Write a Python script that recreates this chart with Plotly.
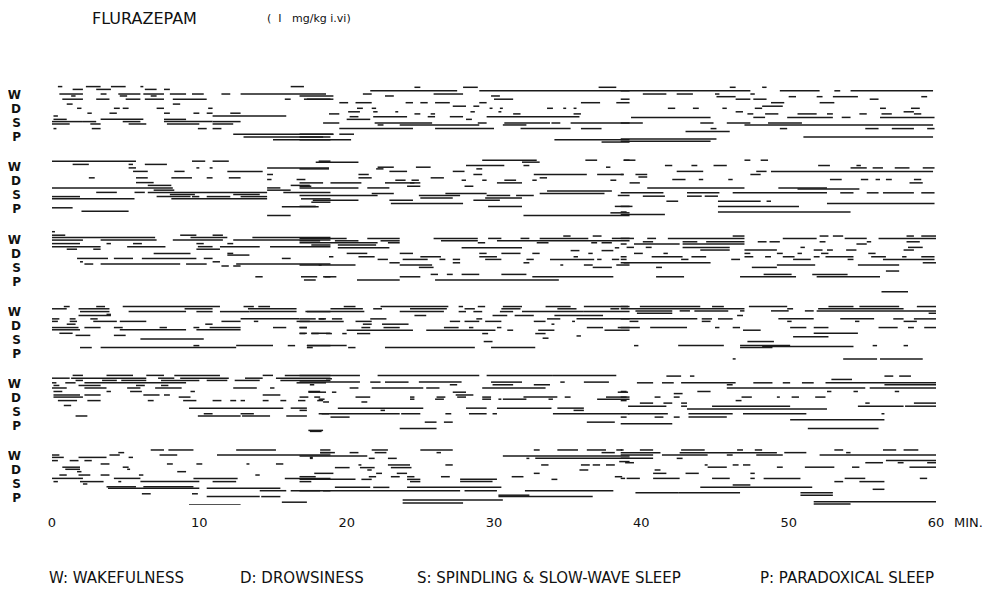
import plotly.graph_objects as go

# ---------------- data ----------------
x_tick_vals = [0, 10, 20, 30, 40, 50, 60]
x_tick_text = ["0", "10", "20", "30", "40", "50", "60"]
stage_labels = ["W", "D", "S", "P"]   # stage level 0..3 inside each panel
title_text = "FLURAZEPAM"
dose_text = "(  I   mg/kg i.vi)"
legend_items = ["W: WAKEFULNESS", "D: DROWSINESS",
                "S: SPINDLING & SLOW-WAVE SLEEP", "P: PARADOXICAL SLEEP"]

# segments per panel: (start_min, end_min, stage level incl. per-animal offset)
P1 = [(0.4,0.7,-0.6),(2.3,3.3,-0.6),(4.0,5.0,-0.6),(6.0,6.2,-0.6),(16.2,17.1,-0.6),
(1.4,2.1,-0.4),(3.0,4.0,-0.4),(6.3,7.1,-0.4),(7.6,8.0,-0.4),
(0.5,2.1,-0.07),(3.3,3.7,-0.07),(4.5,6.0,-0.07),(6.2,7.6,-0.07),(8.0,9.1,-0.07),(9.5,10.3,-0.07),(11.5,12.1,-0.07),(12.8,18.6,-0.07),
(1.3,1.6,0.07),(4.6,5.1,0.07),(6.7,7.1,0.07),
(0.7,2.1,0.3),(3.0,3.9,0.3),(5.0,6.0,0.3),(6.3,7.6,0.3),(8.2,10.5,0.3),(15.8,16.2,0.3),(17.1,18.9,0.3),
(1.0,1.4,0.65),(8.2,8.7,0.65),
(1.7,2.0,0.95),(4.2,4.6,0.95),(4.8,5.2,0.95),(7.1,7.6,0.95),(10.6,10.9,0.95),
(2.4,2.7,1.3),(3.9,4.4,1.3),(7.6,8.0,1.3),(9.6,10.0,1.3),(10.5,10.9,1.3),(12.1,12.8,1.3),
(0.1,0.4,1.5),(10.9,15.9,1.5),
(0.1,1.0,1.74),(3.3,6.2,1.74),(7.6,9.1,1.74),
(0.0,2.1,1.9),(2.1,3.0,1.9),(4.8,6.0,1.9),(7.6,10.9,1.9),(10.9,12.8,1.9),
(0.0,1.2,2.07),(2.6,3.3,2.07),(5.2,6.4,2.07),(7.8,10.0,2.07),(10.9,12.3,2.07),
(0.1,0.3,2.4),(2.7,3.3,2.4),(9.9,10.5,2.4),(10.9,11.5,2.4),
(12.3,19.1,2.8),(13.0,18.9,3.0),(15.0,18.9,3.2),
(24.6,25.0,-0.55),(27.9,28.9,-0.55),(37.1,38.3,-0.55),
(21.6,27.5,-0.3),(29.0,39.2,-0.3),
(25.9,27.9,-0.07),(21.1,21.7,-0.07),
(16.8,19.1,0.07),(22.6,23.2,0.07),(29.8,30.4,0.07),
(17.3,19.1,0.3),(30.0,31.3,0.3),
(19.5,20.1,0.55),(20.6,21.7,0.55),(24.0,24.5,0.55),(25.0,25.5,0.55),(26.0,27.0,0.55),(29.0,29.5,0.55),(35.9,37.2,0.55),(38.3,39.2,0.55),
(27.2,28.1,0.8),(28.6,29.0,0.8),
(20.7,21.1,0.95),(21.7,22.0,0.95),(29.7,29.9,0.95),(30.4,30.6,0.95),(33.6,34.0,0.95),(34.7,34.9,0.95),(35.4,35.6,0.95),
(20.1,20.9,1.2),(21.8,22.1,1.2),(23.3,23.5,1.2),(28.4,28.7,1.2),(30.3,30.5,1.2),
(18.8,19.5,1.35),(24.6,25.0,1.35),(25.7,26.0,1.35),(31.3,31.8,1.35),(35.4,35.9,1.35),
(20.2,20.8,1.55),(21.8,24.1,1.55),(25.5,26.0,1.55),(27.0,27.9,1.55),(29.5,35.8,1.55),
(20.0,21.6,1.74),(28.1,28.5,1.74),
(18.4,19.5,2.0),(21.9,25.8,2.0),(28.9,29.5,2.0),(30.7,33.8,2.0),(33.9,34.5,2.0),(35.2,39.2,2.0),
(22.1,22.5,2.14),(23.6,29.0,2.14),(30.6,32.2,2.14),
(19.5,24.5,2.4),(26.0,30.0,2.4),(31.8,35.2,2.4),(35.9,37.3,2.4),
(16.8,19.1,2.8),(19.5,20.5,2.8),(16.8,18.4,3.0),
(16.8,20.3,3.2),(34.1,39.2,3.2),(37.3,39.2,3.36),
(46.0,46.4,-0.55),(48.2,48.5,-0.55),
(38.6,47.4,-0.3),(49.4,52.1,-0.3),(53.1,53.5,-0.3),(54.2,59.8,-0.3),
(40.1,41.7,-0.07),(42.4,43.5,-0.07),(45.0,45.3,-0.07),(47.4,47.7,-0.07),
(45.1,46.4,0.12),(50.0,50.5,0.12),(51.9,52.3,0.12),(53.0,54.7,0.12),(59.0,59.4,0.12),
(38.6,39.2,0.3),(46.4,47.4,0.3),(47.6,48.5,0.3),(55.5,56.1,0.3),
(48.8,49.7,0.55),(52.1,53.1,0.55),(48.2,49.6,0.8),
(41.8,42.3,0.95),(43.5,43.9,0.95),(45.5,45.8,0.95),(47.7,48.2,0.95),(56.2,56.6,0.95),(58.3,58.9,0.95),
(46.4,46.9,1.2),(57.8,58.5,1.2),
(47.2,47.6,1.35),(48.4,49.3,1.35),(50.6,51.9,1.35),(52.6,53.0,1.35),(54.8,55.3,1.35),(56.3,57.0,1.35),(58.5,59.0,1.35),
(39.3,44.7,1.6),(47.6,48.4,1.6),(49.9,53.0,1.6),(53.6,54.2,1.6),(56.2,59.9,1.6),
(38.6,40.1,2.0),(44.0,44.9,2.0),(45.8,47.4,2.0),(48.6,50.9,2.0),
(47.0,59.8,2.14),
(44.7,45.1,2.4),(49.4,49.9,2.4),(55.2,56.1,2.4),(57.0,58.5,2.4),(59.4,59.9,2.4),
(43.0,46.0,2.6),(51.0,59.8,3.0),(38.6,45.1,3.15),(38.6,44.7,3.3)]

P2 = [(0.0,5.7,-0.43),(9.5,10.4,-0.43),(10.9,12.0,-0.43),(18.1,18.9,-0.43),
(1.4,2.5,-0.2),(5.2,5.5,-0.2),(6.3,7.8,-0.2),
(5.2,5.7,0.05),(9.8,10.0,0.05),(10.7,10.9,0.05),(14.6,18.8,0.05),
(5.5,6.5,0.3),(8.3,9.0,0.3),(11.9,14.3,0.3),(14.6,15.0,0.52),
(2.5,2.9,0.76),(5.7,6.5,0.76),(8.1,9.5,0.76),(10.5,10.9,0.76),(12.0,12.8,0.76),
(14.6,14.9,0.88),(16.6,17.2,0.88),(5.7,6.9,1.1),
(6.5,8.1,1.3),(16.2,17.5,1.3),
(0.0,5.7,1.48),(5.7,8.2,1.48),(14.6,15.5,1.48),
(6.9,8.3,1.64),(14.6,16.2,1.64),
(3.0,4.4,1.8),(5.6,6.3,1.8),(6.5,14.6,1.8),(15.7,18.9,1.8),
(8.0,9.7,1.95),(12.3,14.1,1.95),
(0.0,1.9,2.1),(7.1,9.4,2.1),(9.5,10.0,2.1),(10.5,12.1,2.1),(12.8,14.6,2.1),
(0.0,5.6,2.26),(8.1,14.6,2.26),(16.9,18.9,2.26),(17.6,18.9,2.5),
(15.6,18.1,2.83),(0.0,1.4,2.9),(2.0,5.2,3.14),(14.6,16.2,3.45),
(29.2,32.9,-0.5),(36.2,37.0,-0.5),(38.8,39.2,-0.5),
(17.9,20.8,-0.36),(31.9,33.1,-0.36),
(28.1,30.7,-0.12),(32.0,32.4,-0.12),
(22.1,23.2,0.0),(24.7,25.7,0.0),(37.6,37.9,0.0),
(16.8,18.8,0.12),(22.0,22.5,0.12),(28.8,29.2,0.12),
(22.9,24.1,0.3),(27.2,28.0,0.3),
(20.8,21.5,0.52),(28.6,29.2,0.52),(32.7,36.3,0.52),(37.0,38.8,0.52),
(20.8,21.7,0.76),(25.7,26.6,0.76),(33.1,33.6,0.76),
(23.3,24.0,0.93),(24.4,24.9,0.93),(27.8,28.1,0.93),(29.2,29.5,0.93),(30.7,31.5,0.93),(32.6,32.9,0.93),(37.9,38.3,0.93),
(16.8,18.4,1.12),(18.9,21.0,1.12),(22.6,24.6,1.12),(24.3,25.0,1.12),(30.2,31.9,1.12),
(16.8,17.6,1.36),(24.1,25.0,1.36),(28.0,28.6,1.36),
(16.8,20.8,1.48),(21.4,22.9,1.48),(33.6,38.0,1.7),
(21.7,23.2,1.88),(26.7,29.5,1.88),(33.1,37.5,1.88),
(16.8,22.1,2.02),(24.9,27.7,2.02),(29.5,31.1,2.02),(31.5,32.7,2.02),(38.4,39.2,2.02),
(25.0,27.2,2.2),(29.4,31.9,2.2),
(17.7,20.8,2.36),(22.9,24.5,2.36),(28.6,30.4,2.36),(23.0,27.9,2.6),
(16.8,17.9,2.8),(29.6,31.9,2.8),(38.2,39.2,2.8),
(37.9,39.2,3.26),(32.0,39.2,3.45),
(38.8,39.6,-0.5),(47.0,47.4,-0.5),(48.1,48.6,-0.5),
(41.6,42.1,-0.12),(43.4,43.8,-0.12),(44.9,45.8,-0.12),(52.0,52.8,-0.12),(54.6,54.9,-0.12),
(54.2,55.3,0.05),(55.7,56.4,0.05),(57.2,58.2,0.05),(59.1,59.9,0.05),
(42.4,44.2,0.3),(47.8,48.5,0.3),(48.8,59.8,0.3),
(38.6,38.8,0.52),(39.6,40.4,0.52),(47.4,48.1,0.52),(39.8,40.4,0.7),
(42.1,43.0,0.88),(43.9,44.2,0.88),(45.9,46.2,0.88),(52.8,53.6,0.88),(54.9,55.4,0.88),(55.9,56.2,0.88),(56.6,57.0,0.88),(58.5,59.0,0.88),
(39.2,39.9,1.12),(58.2,59.1,1.12),
(40.4,47.0,1.48),(49.3,52.6,1.48),(50.6,54.8,1.55),
(38.6,41.5,1.83),(43.1,45.3,1.83),(46.2,52.6,1.83),(53.5,54.4,1.83),(55.3,56.1,1.83),(56.4,58.5,1.83),(59.0,59.9,1.83),
(40.1,41.6,2.07),(43.1,44.1,2.07),(44.3,45.2,2.07),
(41.7,42.5,2.43),(45.2,48.1,2.43),(48.5,48.8,2.43),
(52.6,59.9,2.6),(38.6,39.4,2.8),(45.2,50.7,2.8),
(38.6,39.0,3.2),(45.2,54.2,3.2),(38.6,41.6,3.38)]

P3 = [(0.0,0.2,-0.55),
(0.0,0.9,-0.3),(8.7,9.8,-0.3),(10.9,11.6,-0.3),
(0.0,7.0,-0.14),(9.4,11.9,-0.14),(13.6,18.9,-0.14),
(0.0,2.1,0.05),(3.3,7.1,0.05),(8.2,11.6,0.05),(12.3,18.9,0.05),
(0.0,1.9,0.3),(3.7,4.0,0.3),(5.5,6.1,0.3),(9.8,10.3,0.3),(11.9,12.3,0.3),
(0.0,3.3,0.52),(5.1,7.7,0.52),(9.9,10.9,0.52),(11.4,14.1,0.52),(14.8,18.9,0.52),
(1.0,1.7,0.7),(2.8,3.3,0.7),(9.8,11.4,0.7),
(6.9,9.4,1.0),(11.9,12.3,1.0),(11.9,13.4,1.12),
(1.7,3.8,1.36),(4.2,5.5,1.36),(6.1,9.8,1.36),(10.3,10.9,1.36),(15.6,16.2,1.36),
(1.9,2.1,1.6),(10.9,11.4,1.6),
(2.2,2.8,1.76),(3.3,8.7,1.76),(9.1,10.5,1.76),(12.5,18.9,1.76),
(11.5,12.0,1.9),(12.3,12.8,1.9),
(13.8,14.3,2.67),(16.9,18.0,2.67),(18.5,18.9,2.67),
(34.7,35.2,-0.24),(36.7,37.3,-0.24),
(16.8,20.0,-0.07),(21.4,23.6,-0.07),(25.9,28.9,-0.07),(29.6,30.5,-0.07),(31.8,32.4,-0.07),(33.1,36.4,-0.07),(38.0,39.2,-0.07),
(16.8,18.2,0.1),(19.2,20.8,0.1),(22.3,23.6,0.1),(26.4,28.9,0.1),(30.2,39.2,0.1),
(16.8,22.1,0.24),(22.8,23.6,0.24),(28.9,29.4,0.24),(32.9,33.7,0.24),(36.6,37.0,0.24),(37.3,38.0,0.24),
(17.6,18.9,0.4),(19.4,22.0,0.4),
(19.4,22.9,0.6),(27.8,31.9,0.6),(38.2,38.5,0.6),
(35.2,35.8,0.8),(37.3,38.1,0.8),
(20.0,21.4,1.0),(23.6,24.5,1.0),(29.0,29.5,1.0),(30.5,31.8,1.0),(32.6,33.1,1.0),(36.4,36.7,1.0),
(18.8,19.1,1.24),(20.8,21.9,1.24),(25.0,26.4,1.24),(29.0,30.2,1.24),(35.4,35.7,1.24),
(22.1,22.8,1.43),(23.8,25.5,1.43),(26.3,26.7,1.43),(27.2,27.7,1.43),(29.4,30.5,1.43),(32.2,32.7,1.43),(33.8,36.8,1.43),(37.0,37.3,1.43),(38.0,38.5,1.43),
(22.9,23.6,1.67),(27.2,27.7,1.67),(32.0,32.4,1.67),(38.8,39.2,1.67),
(16.8,18.3,1.83),(18.1,20.6,1.83),(23.6,25.8,1.83),(34.5,34.7,1.83),(36.1,36.7,1.83),(38.3,39.2,1.83),
(24.9,25.9,2.0),(36.7,38.0,2.0),
(25.7,26.2,2.5),(26.8,27.2,2.5),(27.8,29.0,2.5),(30.5,32.2,2.5),
(18.4,19.3,2.67),(23.6,25.0,2.67),(32.6,38.1,2.67),
(17.1,17.9,2.9),(20.7,23.6,2.9),(26.0,34.4,2.9),
(46.2,47.0,-0.24),(52.1,52.7,-0.24),(53.0,53.7,-0.24),(58.0,58.5,-0.24),(59.0,60.0,-0.24),
(38.6,39.5,-0.07),(40.4,41.0,-0.07),(41.8,47.0,-0.07),(49.6,51.9,-0.07),(53.8,55.3,-0.07),(56.1,60.0,-0.07),
(40.1,40.8,0.17),(42.8,43.8,0.17),(44.4,47.0,0.17),(47.9,48.5,0.17),(48.7,49.4,0.17),(52.1,52.5,0.17),(55.3,55.6,0.17),(58.0,58.9,0.17),
(38.6,39.0,0.33),(39.5,42.6,0.33),(42.8,47.0,0.33),(54.6,55.3,0.33),
(39.0,39.5,0.57),(40.3,40.7,0.57),(42.8,46.0,0.57),(50.8,51.1,0.57),(58.1,59.1,0.57),
(44.0,46.0,0.76),(47.0,49.2,0.76),(51.7,52.3,0.76),(52.6,53.0,0.76),(53.9,54.6,0.76),(57.8,58.5,0.76),
(39.5,40.1,1.0),(41.5,41.8,1.0),(47.0,47.4,1.0),(49.2,49.6,1.0),(50.6,50.9,1.0),(52.2,52.7,1.0),(55.4,55.9,1.0),
(38.6,39.0,1.24),(40.7,42.8,1.24),(43.4,44.4,1.24),(47.0,47.6,1.24),(48.4,48.8,1.24),(49.6,50.4,1.24),(51.7,52.1,1.24),(52.5,54.4,1.24),(55.6,56.6,1.24),(57.7,58.0,1.24),(59.0,59.9,1.24),
(38.6,39.0,1.43),(42.7,43.2,1.43),(46.1,46.7,1.43),(50.3,51.5,1.43),(54.0,54.4,1.43),(56.4,59.9,1.43),
(38.6,44.7,1.67),(59.1,60.0,1.67),
(49.2,51.8,1.83),(54.7,57.5,1.83),
(41.0,41.4,2.0),(47.5,49.2,2.0),(56.6,57.5,2.26),
(48.3,50.2,2.5),(51.6,54.0,2.5),
(41.0,42.9,2.67),(46.7,50.5,2.67),(51.9,56.2,2.67),
(56.3,58.1,3.74)]

P4 = [(0.8,1.2,-0.36),(3.0,3.6,-0.36),(4.8,11.4,-0.36),(13.0,13.7,-0.36),(14.0,14.8,-0.36),
(0.0,1.0,-0.2),(1.8,3.9,-0.2),(9.0,10.9,-0.2),(13.3,16.6,-0.2),
(1.9,3.9,0.0),(5.2,9.1,0.0),(9.8,10.9,0.0),(11.4,13.4,0.0),(13.4,16.6,0.0),(17.3,18.9,0.0),
(3.7,4.0,0.2),(1.8,4.0,0.28),
(0.0,0.5,0.52),(1.2,1.6,0.52),(2.6,3.1,0.52),(12.8,16.8,0.52),(18.1,18.6,0.52),
(0.0,0.4,0.7),(1.2,1.7,0.7),(2.8,4.4,0.7),(4.6,6.4,0.7),(11.5,12.8,0.7),(13.7,14.0,0.7),(16.6,17.5,0.7),
(1.0,1.6,0.9),(10.4,10.9,0.9),
(0.0,1.8,1.14),(2.2,3.3,1.14),(4.2,4.8,1.14),(7.3,7.8,1.14),(9.6,10.0,1.14),(10.7,12.8,1.14),(15.0,15.9,1.14),(16.8,17.3,1.14),
(0.0,1.9,1.3),(4.6,9.1,1.3),(9.8,12.8,1.3),
(0.5,1.4,1.55),(16.8,17.3,1.55),(17.6,18.9,1.55),
(1.6,2.6,1.7),(4.2,5.0,1.7),(6.0,10.3,1.95),
(1.9,2.7,2.57),(3.3,12.5,2.57),
(9.6,10.0,2.43),(12.5,15.0,2.43),(16.0,16.5,2.43),(17.3,18.9,2.43),
(19.8,20.6,-0.36),(22.3,26.9,-0.36),(27.6,27.9,-0.36),(28.9,29.4,-0.36),(30.6,31.9,-0.36),(33.5,35.2,-0.36),(36.1,39.1,-0.36),
(18.9,21.1,-0.2),(21.8,22.4,-0.2),(24.3,26.8,-0.2),(28.0,28.7,-0.2),(30.5,31.8,-0.2),(34.3,35.6,-0.2),(37.9,38.5,-0.2),
(17.2,21.2,0.0),(23.6,26.6,0.0),(27.6,28.1,0.0),(28.6,29.2,0.0),(30.4,31.3,0.0),(31.9,36.1,0.0),(36.1,39.2,0.0),
(24.6,25.4,0.28),(29.9,30.9,0.28),(31.4,32.7,0.28),(34.1,37.4,0.28),
(16.8,17.9,0.52),(18.1,18.5,0.52),(19.0,19.7,0.52),(21.6,22.7,0.52),(28.8,29.2,0.52),(33.6,34.5,0.52),(35.6,39.2,0.52),
(16.8,19.8,0.7),(20.6,21.7,0.7),(27.0,27.7,0.7),(28.0,29.0,0.7),(29.4,30.5,0.7),(32.7,33.5,0.7),(35.3,35.5,0.7),
(21.1,21.7,0.9),(22.4,24.2,0.9),(33.9,34.1,0.9),
(16.8,17.3,1.14),(21.0,21.6,1.14),(22.5,23.6,1.14),(26.6,27.6,1.14),(28.3,28.6,1.14),(30.2,30.5,1.14),(36.3,37.4,1.14),(38.4,39.2,1.14),
(20.0,24.5,1.33),(25.4,30.1,1.33),(30.9,31.3,1.33),(33.0,34.1,1.33),(37.5,39.2,1.33),
(16.8,17.2,1.57),(17.6,18.1,1.57),(18.6,19.0,1.57),(19.7,20.0,1.57),(20.7,21.6,1.57),(29.2,29.6,1.57),(32.8,33.5,1.57),
(35.6,35.9,1.74),(33.3,33.7,1.9),(29.3,29.9,2.14),
(17.3,20.0,2.43),
(17.3,17.7,2.57),(20.1,20.6,2.57),(22.6,28.7,2.57),(29.8,32.8,2.57),
(38.6,39.2,-0.36),(39.9,44.0,-0.36),(44.8,45.6,-0.36),(47.3,49.9,-0.36),(52.7,54.4,-0.36),(54.8,57.5,-0.36),(58.7,60.0,-0.36),
(38.6,47.0,-0.2),(49.9,50.3,-0.2),(52.0,57.8,-0.2),
(39.6,42.1,-0.05),(42.6,43.3,-0.05),(43.6,45.9,-0.05),(46.7,47.0,-0.05),(48.8,50.0,-0.05),(51.1,51.7,-0.05),(51.9,60.0,-0.05),
(39.7,42.1,0.12),(59.5,60.0,0.12),(46.5,46.9,0.28),
(38.6,43.8,0.52),(44.1,44.8,0.52),(45.2,46.2,0.52),(49.3,51.7,0.52),(53.5,55.8,0.52),(57.1,57.8,0.52),(58.5,60.0,0.52),
(39.2,39.8,0.7),(44.1,44.7,0.7),(49.9,50.2,0.7),(54.5,54.8,0.7),(57.8,58.7,0.7),
(38.6,39.9,1.14),(40.6,43.1,1.14),(45.0,45.3,1.14),(46.2,46.7,1.14),(50.1,51.2,1.14),(51.7,52.7,1.14),(56.1,57.4,1.14),(58.1,58.5,1.14),(59.2,60.0,1.14),
(46.9,48.1,1.33),(51.7,54.7,1.55),(50.3,52.7,1.8),(47.2,49.0,2.14),
(39.5,39.8,2.43),(42.5,45.6,2.43),(46.7,50.1,2.43),(48.2,54.4,2.5),(55.7,56.0,2.43),(57.8,58.1,2.43),
(46.7,48.9,2.57),
(46.2,46.4,3.38),(53.7,56.0,3.38),(56.2,59.1,3.38)]

P5 = [(1.4,2.1,-0.6),(3.7,5.5,-0.6),(6.4,7.6,-0.6),(8.3,11.4,-0.6),(14.3,15.0,-0.6),(15.8,18.9,-0.6),
(0.0,1.2,-0.4),(1.3,6.4,-0.4),(7.2,8.3,-0.4),(8.7,12.0,-0.4),(13.1,14.3,-0.4),(15.2,18.9,-0.4),
(1.6,2.1,-0.24),(3.4,4.4,-0.24),(4.7,6.4,-0.24),(7.4,10.0,-0.24),(10.5,11.9,-0.24),(12.4,14.1,-0.24),(15.5,18.9,-0.24),
(0.0,0.3,-0.07),(0.9,1.6,-0.07),(2.2,5.5,-0.07),(5.5,9.1,-0.07),(16.6,18.6,-0.07),
(0.1,0.5,0.12),(1.8,3.3,0.12),(5.7,6.3,0.12),(7.4,7.9,0.12),
(0.0,1.0,0.3),(2.2,3.7,0.3),(5.1,6.0,0.3),(7.0,8.8,0.3),(12.3,13.9,0.3),(14.8,15.1,0.3),
(0.1,0.7,0.55),(3.7,4.0,0.55),(5.3,6.1,0.55),(9.4,9.7,0.55),(17.4,18.2,0.55),
(0.1,1.9,0.8),(2.2,3.3,0.8),(6.2,7.3,0.8),(7.6,8.0,0.8),(14.3,15.5,0.8),
(0.1,2.1,0.95),(8.6,9.4,0.95),
(0.4,1.7,1.2),(2.4,3.3,1.2),(6.5,6.9,1.2),(8.9,9.8,1.2),(10.9,11.5,1.2),(12.1,12.5,1.2),(12.8,13.1,1.2),(14.3,14.7,1.2),(15.5,15.9,1.2),(16.7,17.2,1.2),(18.0,18.4,1.2),
(0.8,1.3,1.55),(9.3,15.7,1.74),(16.2,17.3,1.74),
(10.3,10.9,2.14),(12.8,13.7,2.14),(18.1,18.8,2.14),
(1.6,2.4,2.3),(9.9,12.8,2.3),(12.9,14.8,2.3),(15.9,17.3,2.3),
(17.4,18.4,3.33),
(16.8,20.9,-0.6),(22.1,29.0,-0.6),(29.5,34.0,-0.6),(34.0,38.3,-0.6),
(18.6,19.0,-0.36),
(16.8,20.9,-0.12),(21.6,22.3,-0.12),(22.6,24.2,-0.12),(24.9,27.8,-0.12),(29.8,31.9,-0.12),(34.5,34.8,-0.12),(36.1,37.8,-0.12),
(17.5,17.8,0.07),(27.0,27.5,0.07),(29.9,31.3,0.07),(32.7,33.8,0.07),
(20.2,20.8,0.3),(21.7,25.2,0.3),(25.4,26.3,0.3),(29.2,33.5,0.3),
(17.4,18.6,0.6),(19.0,19.3,0.6),(27.2,28.1,0.6),(38.4,39.1,0.6),(27.4,28.6,0.8),
(16.8,17.4,0.95),(17.8,18.2,0.95),(20.6,21.6,0.95),(24.3,24.6,0.95),(26.1,26.7,0.95),(27.5,28.1,0.95),(29.2,29.8,0.95),(32.0,34.3,0.95),(34.8,35.2,0.95),(37.6,39.2,0.95),
(18.1,18.5,1.1),(24.3,24.6,1.1),(26.0,26.6,1.1),(29.2,29.8,1.1),(30.3,30.5,1.1),(30.6,32.2,1.1),(33.7,34.0,1.1),(37.0,39.2,1.1),
(18.4,18.8,1.3),(21.0,21.4,1.3),
(19.4,25.2,1.74),(28.1,29.5,1.74),(30.2,33.9,1.74),(34.3,36.1,1.74),
(16.8,17.3,1.9),(22.3,22.6,1.9),(35.4,36.1,1.9),
(18.3,23.6,2.14),(23.7,25.0,2.14),(26.7,27.1,2.14),(28.3,29.5,2.14),(29.9,30.2,2.14),(34.0,39.2,2.14),
(18.9,20.2,2.38),
(25.3,26.1,2.74),(26.6,27.2,2.74),(36.3,38.2,2.74),
(23.6,26.1,3.2),(17.5,18.3,3.4),
(41.7,42.7,-0.55),(43.3,43.6,-0.55),(56.5,57.1,-0.55),(57.5,58.3,-0.55),
(52.9,54.3,-0.31),
(39.7,40.8,-0.07),(41.4,42.2,-0.07),(42.7,46.4,-0.07),(47.6,48.9,-0.07),(49.6,50.1,-0.07),(50.9,51.7,-0.07),(52.5,60.0,-0.07),
(45.8,46.2,0.07),(56.5,60.0,0.07),
(45.8,55.2,0.3),(55.5,60.0,0.3),
(38.6,39.0,0.55),(43.8,44.7,0.55),(52.6,52.9,0.55),(54.4,54.7,0.55),(57.2,57.5,0.55),
(42.2,42.8,0.7),
(38.6,39.0,0.95),(40.9,41.3,0.95),(42.2,42.6,0.95),(46.8,47.5,0.95),(49.2,49.4,0.95),(50.2,50.7,0.95),(51.8,52.5,0.95),
(38.6,39.0,1.2),(46.4,46.8,1.2),
(39.9,40.8,1.38),(41.5,42.1,1.38),(42.7,43.1,1.38),(55.2,55.5,1.38),(58.5,60.0,1.38),
(39.1,41.7,1.6),(42.7,43.1,1.6),(44.8,50.1,1.6),(54.7,57.8,1.6),(57.9,60.0,1.6),
(43.1,52.6,1.8),
(39.1,41.8,2.14),(43.2,46.2,2.14),(46.9,51.2,2.14),(56.3,56.5,2.14),
(38.6,39.0,2.38),(40.9,41.5,2.38),(42.2,42.6,2.38),(43.2,45.8,2.38),
(50.1,56.5,2.57),(38.6,42.1,2.86),(51.3,56.1,3.2)]

P6 = [(6.7,7.6,-0.43),(7.9,9.6,-0.43),(12.5,15.2,-0.43),(18.2,18.9,-0.43),
(4.5,4.9,-0.24),(18.2,18.9,-0.24),
(0.0,0.5,-0.07),(3.9,4.6,-0.07),(7.3,8.5,-0.07),(11.2,18.9,-0.07),
(0.0,0.8,0.1),(1.8,3.7,0.1),(5.2,5.5,0.1),(17.5,17.7,0.1),
(0.0,0.4,0.33),(1.2,1.8,0.33),(2.2,2.7,0.33),
(3.3,3.9,0.57),(7.8,8.2,0.57),(9.8,10.2,0.57),(13.2,13.4,0.57),(15.2,15.7,0.57),
(0.7,1.9,0.8),(4.8,5.2,0.8),(0.9,1.9,0.95),(5.1,5.3,0.95),
(1.7,2.0,1.12),(8.5,9.1,1.12),
(0.5,1.0,1.36),(1.8,2.6,1.36),(3.3,3.9,1.36),(5.9,6.2,1.36),(13.8,14.1,1.36),
(0.0,1.7,1.6),(1.7,2.1,1.6),(4.2,6.0,1.6),(9.6,12.6,1.6),(15.8,18.9,1.6),
(0.1,0.4,1.83),(1.9,3.5,1.83),(4.5,4.7,1.83),(6.0,10.0,1.83),(10.9,12.5,1.83),
(2.1,2.4,2.0),(3.7,5.7,2.2),(6.2,9.6,2.2),
(3.8,10.0,2.3),(10.5,15.5,2.3),
(14.1,15.9,2.48),(16.2,18.9,2.48),
(6.1,6.7,2.7),(9.5,9.9,2.7),
(10.5,14.1,2.9),(14.2,15.5,2.9),
(9.3,12.8,3.5),(15.6,17.3,3.3),
(21.7,22.8,-0.43),(25.0,27.2,-0.43),(32.7,33.1,-0.43),(34.3,35.7,-0.43),(36.3,37.6,-0.43),(38.3,38.7,-0.43),
(18.2,19.2,-0.24),(20.2,20.8,-0.24),(21.9,22.7,-0.24),(26.1,26.4,-0.24),(37.3,38.2,-0.24),
(16.8,21.4,0.0),(30.6,39.2,0.0),
(17.5,17.7,0.17),(21.5,21.9,0.17),(22.8,23.4,0.17),(32.2,32.4,0.17),(32.8,39.2,0.17),
(38.5,39.2,0.4),
(20.8,21.0,0.64),(22.8,24.3,0.64),(26.7,27.2,0.64),(33.2,33.7,0.64),(35.9,36.5,0.64),(36.7,37.2,0.64),(37.6,38.2,0.64),
(19.2,20.2,0.83),(20.9,21.9,0.83),(23.0,24.4,0.83),
(21.4,21.7,1.0),(35.8,36.4,1.0),
(17.8,19.1,1.24),(22.0,22.4,1.24),(23.4,24.1,1.24),(32.7,33.1,1.24),
(16.8,17.9,1.48),(21.5,22.0,1.48),(23.0,23.6,1.48),(24.1,24.6,1.48),(26.4,27.0,1.48),(31.2,32.0,1.48),(38.2,38.7,1.48),
(16.8,20.6,1.67),(21.0,21.7,1.67),(24.1,25.0,1.67),(27.7,30.2,1.67),(33.9,34.3,1.67),
(16.8,17.6,1.83),(24.3,25.0,1.83),(27.7,29.9,1.83),
(19.2,21.6,2.24),(21.8,22.9,2.24),(24.1,30.5,2.24),
(16.8,18.2,2.48),(18.4,27.7,2.48),(28.0,30.2,2.48),(32.1,38.1,2.48),
(30.3,32.4,2.8),(30.3,36.7,2.9),(23.8,30.6,3.14),
(27.9,31.2,3.57),(23.8,27.9,3.35),
(38.6,38.8,-0.43),(39.9,40.8,-0.43),(42.7,44.3,-0.43),(46.5,46.9,-0.43),(47.7,48.2,-0.43),(53.1,53.7,-0.43),(56.4,57.3,-0.43),(57.8,58.8,-0.43),
(38.6,41.3,-0.24),(42.6,49.2,-0.24),(49.7,51.2,-0.24),(53.9,54.2,-0.24),
(38.6,40.8,-0.07),(41.4,44.5,-0.07),(45.8,46.2,-0.07),(47.8,49.6,-0.07),(52.1,60.0,-0.07),
(38.6,40.8,0.17),(42.4,42.8,0.17),(56.6,60.0,0.33),
(38.9,39.5,0.48),(55.2,56.4,0.48),(57.4,57.8,0.48),(59.4,60.0,0.48),
(44.3,44.5,0.64),(46.2,46.6,0.64),(46.9,47.4,0.64),
(44.5,45.8,0.8),(49.2,49.6,0.8),(51.1,53.1,0.8),(54.3,54.8,0.8),(58.2,60.0,0.8),
(40.9,41.3,1.0),
(40.8,41.7,1.24),(43.0,43.9,1.24),(47.4,47.7,1.24),
(38.6,38.9,1.6),(39.0,39.9,1.6),(40.8,42.6,1.6),(44.8,46.0,1.6),(47.4,47.7,1.6),(48.3,50.8,1.6),(53.8,55.2,1.6),(58.9,59.4,1.6),
(53.1,53.7,1.83),(54.8,56.5,1.83),
(46.2,47.4,2.07),(44.0,51.6,2.24),(55.7,56.5,2.38),
(39.6,42.5,2.62),(42.5,46.7,2.62),(50.8,53.0,2.62),(50.8,53.0,2.8),
(51.7,60.0,3.26),(51.7,54.2,3.43)]

panels = [P1, P2, P3, P4, P5, P6]
panel_spacing = 5.157   # vertical distance between panels in stage units

# ---------------- figure ----------------
# the page body adds an 8 px margin, so the figure is drawn 8 px smaller
OFF = 8
W, H = 995 - OFF, 597 - OFF
ML, MT = 52 - OFF, 80 - OFF          # plot area starts at screen (52, 80)
MR = W - (936 - OFF)                 # plot area ends at screen x = 936
MB = H - (505 - OFF)                 # plot area ends at screen y = 505
PW, PH = W - ML - MR, H - MT - MB

def px(x):  # screen pixel -> paper x
    return (x - OFF - ML) / PW

def py(y):  # screen pixel -> paper y
    return (H - MB - (y - OFF)) / PH

fig = go.Figure()
for k, segs in enumerate(panels):
    base = k * panel_spacing
    xs, ys = [], []
    for s, e, v in segs:
        xs += [s, e, None]
        ys += [base + v, base + v, None]
    fig.add_trace(go.Scatter(x=xs, y=ys, mode="lines",
                             line=dict(color="#1a1a1a", width=1.5),
                             hoverinfo="skip", showlegend=False))

ytick_vals, ytick_text = [], []
for k in range(len(panels)):
    for i, lab in enumerate(stage_labels):
        ytick_vals.append(k * panel_spacing + i)
        ytick_text.append(lab)

y_top = -(95 - 80) / 14.0
y_bot = y_top + PH / 14.0

fig.update_layout(
    width=W, height=H,
    margin=dict(l=ML, r=MR, t=MT, b=MB, autoexpand=False),
    paper_bgcolor="white", plot_bgcolor="white",
    font=dict(family="DejaVu Sans", color="#111111"),
    xaxis=dict(range=[0, 60], tickvals=x_tick_vals, ticktext=x_tick_text,
               showgrid=False, zeroline=False, showline=False, ticks="",
               automargin=False,
               tickfont=dict(size=13, family="DejaVu Sans"), ticklabelstandoff=8),
    yaxis=dict(range=[y_bot, y_top], tickvals=ytick_vals, ticktext=ytick_text,
               showgrid=False, zeroline=False, showline=False, ticks="",
               automargin=False,
               tickfont=dict(size=12, family="DejaVu Sans", weight="bold"),
               ticklabelstandoff=30),
)

ann = [
    dict(x=px(90), y=py(19), text=title_text, font=dict(size=16)),
    dict(x=px(265), y=py(19), text=dose_text, font=dict(size=11)),
    dict(x=px(952), y=py(522), text="MIN.", font=dict(size=13)),
    dict(x=px(47), y=py(578), text=legend_items[0], font=dict(size=15)),
    dict(x=px(238), y=py(578), text=legend_items[1], font=dict(size=15)),
    dict(x=px(415), y=py(578), text=legend_items[2], font=dict(size=15)),
    dict(x=px(758), y=py(578), text=legend_items[3], font=dict(size=15)),
]
for a in ann:
    fig.add_annotation(xref="paper", yref="paper", xanchor="left", yanchor="middle",
                       showarrow=False, **a)

fig.write_html("out.html")
